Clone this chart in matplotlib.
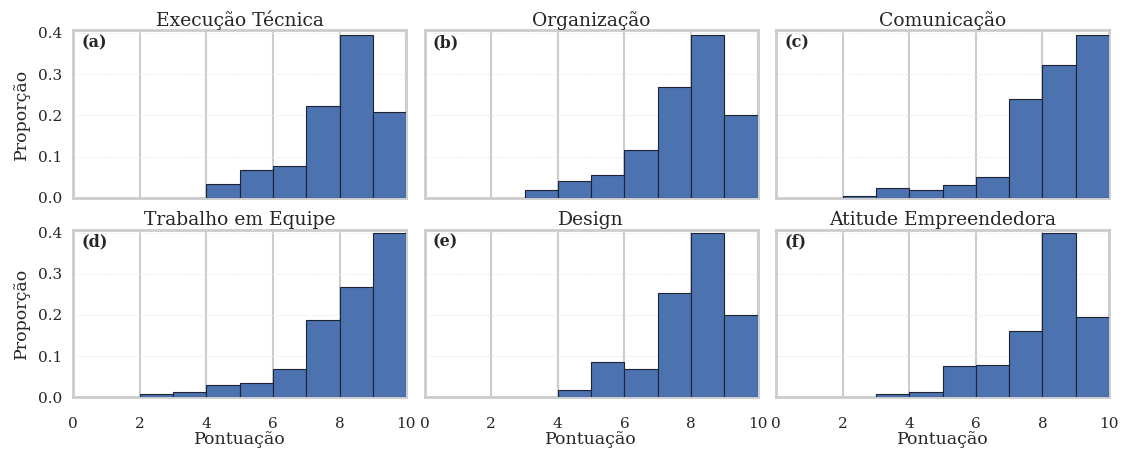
import numpy as np
import matplotlib.pyplot as plt

plt.rcParams['font.family'] = ['DejaVu Serif']

# bins are integer scores, proportion per bin
bin_edges = np.arange(0, 11)
titles = ['Execução Técnica', 'Organização', 'Comunicação',
          'Trabalho em Equipe', 'Design', 'Atitude Empreendedora']
letters = ['(a)', '(b)', '(c)', '(d)', '(e)', '(f)']

exec_tecnica = [0, 0, 0, 0, 0.034, 0.067, 0.076, 0.222, 0.396, 0.209]
organizacao = [0, 0, 0, 0.018, 0.040, 0.055, 0.115, 0.269, 0.395, 0.202]
comunicacao = [0, 0, 0.004, 0.023, 0.018, 0.031, 0.050, 0.240, 0.322, 0.395]
trabalho_equipe = [0, 0, 0.008, 0.013, 0.031, 0.036, 0.069, 0.187, 0.269, 0.398]
design = [0, 0, 0, 0, 0.018, 0.087, 0.069, 0.253, 0.398, 0.201]
atitude = [0, 0, 0, 0.009, 0.013, 0.075, 0.079, 0.162, 0.398, 0.194]

series = [exec_tecnica, organizacao, comunicacao, trabalho_equipe, design, atitude]

fig, axes = plt.subplots(2, 3, figsize=(11.26, 4.49), dpi=100, sharex=True, sharey=True)
fig.subplots_adjust(left=0.065, right=0.985, top=0.933, bottom=0.115, wspace=0.055, hspace=0.19)

for i, ax in enumerate(axes.flat):
    vals = np.array(series[i])
    mask = vals > 0
    ax.bar(bin_edges[:-1][mask], vals[mask], width=1, align='edge',
           color='#4c72b0', edgecolor='#1c2333', linewidth=0.8, zorder=3)
    ax.set_title(titles[i], fontsize=13.5, pad=3, color='#262626')
    ax.text(0.025, 0.975, letters[i], transform=ax.transAxes, fontsize=11.5,
            fontweight='bold', va='top', ha='left', color='#262626', zorder=4)
    ax.set_xlim(0, 10)
    ax.set_ylim(0, 0.407)
    ax.set_xticks([0, 2, 4, 6, 8, 10])
    ax.set_yticks([0.0, 0.1, 0.2, 0.3, 0.4])
    ax.grid(axis='x', color='#cccccc', linewidth=1.5, zorder=0)
    ax.grid(axis='y', color='#ececec', linewidth=0.6, linestyle='--', zorder=0)
    for sp in ax.spines.values():
        sp.set_color('#cccccc')
        sp.set_linewidth(2)
    ax.tick_params(length=0, labelsize=11, colors='#262626')
    ax.tick_params(axis='y', pad=8)
    ax.tick_params(axis='x', pad=14)
    if i % 3 == 0:
        ax.set_ylabel('Proporção', fontsize=12.5, color='#262626', labelpad=6)
    if i >= 3:
        ax.set_xlabel('Pontuação', fontsize=12.5, color='#262626', labelpad=0)
        ax.tick_params(axis='x', labelbottom=True)

plt.savefig('out.png')
